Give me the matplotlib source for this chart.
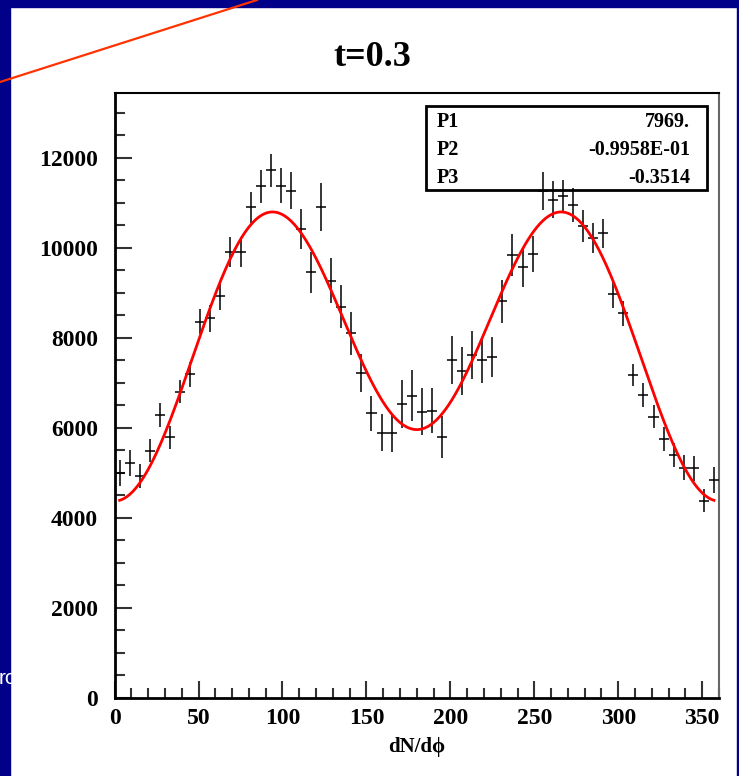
import numpy as np
import matplotlib.pyplot as plt
from matplotlib.lines import Line2D
from matplotlib.patches import Rectangle
from matplotlib.ticker import MultipleLocator

# bin centres (degrees) and counts
phi = [3, 9, 15, 21, 27, 33, 39, 45, 51, 57, 63, 69, 75, 81, 87,
       93, 99, 105, 111, 117, 123, 129, 135, 141, 147, 153, 159, 165, 171, 177,
       183, 189, 195, 201, 207, 213, 219, 225, 231, 237, 243, 249, 255, 261, 267,
       273, 279, 285, 291, 297, 303, 309, 315, 321, 327, 333, 339, 345, 351, 357]
counts = [5007, 5215, 4933, 5496, 6289, 5793, 6807, 7193, 8363, 8437, 8933, 9918, 9918, 10904, 11363,
          11719, 11385, 11274, 10415, 9459, 10911, 9274, 8696, 8104, 7215, 6326, 5896, 5896, 6526, 6719,
          6363, 6385, 5807, 7511, 7267, 7622, 7511, 7585, 8815, 9844, 9570, 9867, 11252, 11067, 11141,
          10956, 10489, 10215, 10326, 8970, 8548, 7178, 6733, 6252, 5756, 5400, 5119, 5104, 4385, 4844]
errors = [289, 289, 267, 259, 267, 252, 259, 274, 281, 296, 311, 333, 333, 341, 356,
          370, 385, 422, 444, 459, 526, 496, 481, 474, 422, 393, 415, 422, 533, 563,
          519, 496, 467, 533, 541, 533, 511, 444, 474, 474, 430, 407, 422, 407, 370,
          378, 348, 333, 319, 296, 274, 252, 259, 259, 259, 267, 274, 274, 259, 289]

# fit parameters shown in the stats box
par_names = ['P1', 'P2', 'P3']
par_text = ['7969.', '-0.9958E-01', '-0.3514']
P1, P2, P3 = 7969., -0.09958, -0.3514

navy = '#000088'
serif = ['Liberation Serif', 'DejaVu Serif']

fig = plt.figure(figsize=(7.39, 7.76), dpi=100)
W, H = 739., 776.

# navy frame of the slide
fig.patches.append(Rectangle((0, 0), 10 / W, 1, transform=fig.transFigure, color=navy, zorder=0))
fig.patches.append(Rectangle((0, 1 - 7 / H), 1, 7 / H, transform=fig.transFigure, color=navy, zorder=0))
fig.patches.append(Rectangle((1 - 2.5 / W, 0), 2.5 / W, 1, transform=fig.transFigure, color=navy, zorder=0))

ax = fig.add_axes([114.6 / W, 78 / H, (719 - 114.6) / W, (698 - 93) / H])

# stats box sits under the data marks
box = Rectangle((426 / W, 1 - 190 / H), (707 - 426) / W, (190 - 106) / H,
                transform=fig.transFigure, fc='white', ec='black', lw=2, zorder=1, clip_on=False)
ax.add_patch(box)

ax.errorbar(phi, counts, yerr=errors, xerr=3, fmt='none', ecolor='black', elinewidth=1.1,
            capsize=0, zorder=3)

xf = np.linspace(3, 357, 400)
rad = np.radians(xf)
ax.plot(xf, P1 * (1 + P2 * np.cos(rad) + P3 * np.cos(2 * rad)), color='red', lw=2, zorder=4)

ax.set_xlim(0, 360)
ax.set_ylim(0, 13440)
ax.xaxis.set_major_locator(MultipleLocator(50))
ax.xaxis.set_minor_locator(MultipleLocator(10))
ax.yaxis.set_major_locator(MultipleLocator(2000))
ax.yaxis.set_minor_locator(MultipleLocator(500))
ax.tick_params(which='both', direction='in', top=False, right=False, width=1.5, color='#333333')
ax.tick_params(which='major', length=12)
ax.tick_params(which='minor', length=7)
ax.tick_params(axis='x', pad=7)
ax.tick_params(axis='y', pad=12)
for lab in ax.get_xticklabels() + ax.get_yticklabels():
    lab.set_fontfamily(serif)
    lab.set_fontweight('bold')
    lab.set_fontsize(17)
for s in ['left', 'bottom']:
    ax.spines[s].set_linewidth(2)
for s in ['top', 'right']:
    ax.spines[s].set_linewidth(1.5)
ax.spines['right'].set_color('#666666')

ax.set_xlabel('dN/d\u03d5', family=serif, fontweight='bold', fontsize=15, labelpad=6)
fig.text(372 / W, 1 - 57 / H, 't=0.3', family=serif, fontweight='bold', fontsize=26,
         ha='center', va='center')

rows_y = [122, 150, 178]
for name, val, yy in zip(par_names, par_text, rows_y):
    ax.text(437 / W, 1 - yy / H, name, family=serif, fontweight='bold', fontsize=14.5,
            ha='left', va='center', transform=fig.transFigure, zorder=6)
    ax.text(690 / W, 1 - yy / H, val, family=serif, fontweight='bold', fontsize=14.5,
            ha='right', va='center', transform=fig.transFigure, zorder=6)

# decoration bits from the slide
fig.add_artist(Line2D([0, 257 / W], [1 - 82 / H, 1], transform=fig.transFigure, color='#ff3300', lw=1.6))
fig.text(-1 / W, 1 - 678 / H, 'ro', color='white', fontsize=15, family='Liberation Sans',
         ha='left', va='center')

fig.savefig('out.png', dpi=100)
